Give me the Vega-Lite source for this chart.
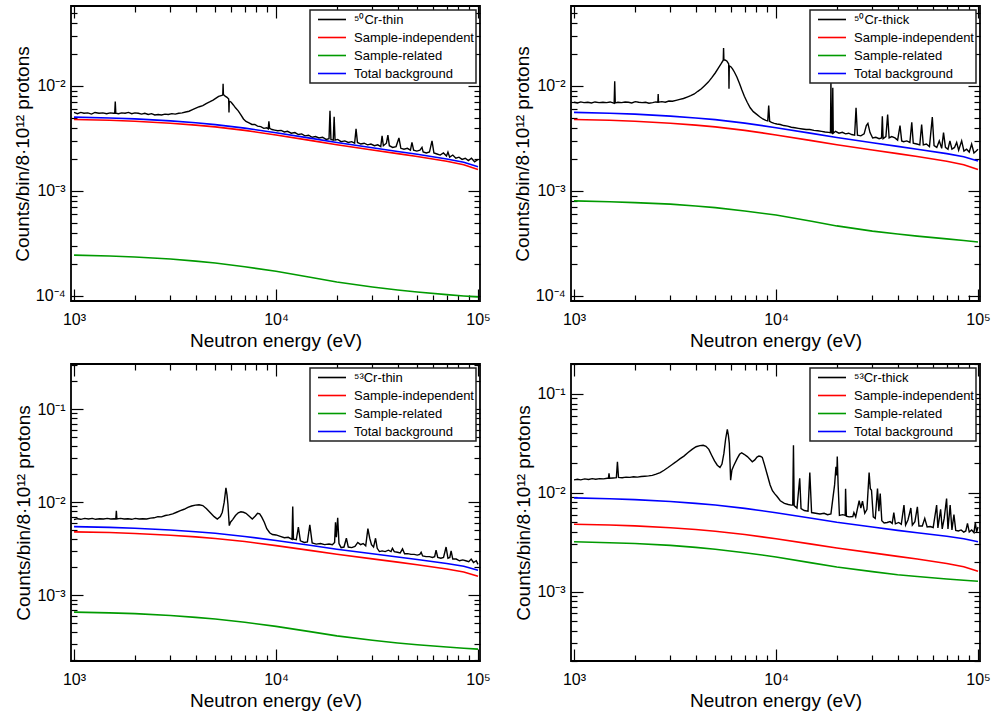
{
  "$schema": "https://vega.github.io/schema/vega-lite/v6.json",
  "background": "white",
  "padding": {"left": 12, "top": 3, "right": 5, "bottom": 5},
  "bounds": "flush",
  "columns": 2,
  "spacing": {"row": 63, "column": 91},
  "config": {
    "font": "Liberation Sans",
    "view": {"stroke": "black", "strokeWidth": 1.8},
    "axis": {
      "grid": false, "domain": false,
      "labelFont": "Liberation Sans", "labelFontSize": 16, "labelColor": "black",
      "titleFont": "Liberation Sans", "titleFontSize": 19, "titleFontWeight": "normal", "titleColor": "black",
      "tickColor": "black", "tickWidth": 1.2, "labelOverlap": false, "labelFlush": false, "labelBound": false
    },
    "axisBottom": {"labelPadding": 22, "titlePadding": -2},
    "axisLeft": {"labelPadding": 18, "titlePadding": 3},
    "legend": {
      "orient": "top-right", "offset": 4, "strokeColor": "#222222", "strokeWidth": 1.5, "fillColor": "white",
      "padding": 2, "clipHeight": 15, "rowPadding": 3, "symbolOffset": 5,
      "symbolType": "stroke", "symbolSize": 784, "symbolStrokeWidth": 1.6,
      "labelFont": "Liberation Sans", "labelFontSize": 13, "labelColor": "black", "labelOffset": 7
    }
  },
  "resolve": {"scale": {"color": "independent"}, "legend": {"color": "independent"}},
  "datasets": {
    "red": [{"E":1000,"v":4.80e-3},{"E":1500,"v":4.72e-3},{"E":2000,"v":4.62e-3},{"E":3000,"v":4.42e-3},{"E":4000,"v":4.24e-3},{"E":5000,"v":4.08e-3},{"E":7000,"v":3.78e-3},{"E":10000,"v":3.42e-3},{"E":15000,"v":3.02e-3},{"E":20000,"v":2.76e-3},{"E":30000,"v":2.46e-3},{"E":40000,"v":2.27e-3},{"E":50000,"v":2.13e-3},{"E":70000,"v":1.92e-3},{"E":85000,"v":1.78e-3},{"E":100000,"v":1.60e-3}],
    "g1": [{"E":1000,"v":2.45e-4},{"E":1500,"v":2.40e-4},{"E":2000,"v":2.35e-4},{"E":3000,"v":2.25e-4},{"E":4000,"v":2.15e-4},{"E":5000,"v":2.06e-4},{"E":7000,"v":1.90e-4},{"E":10000,"v":1.72e-4},{"E":15000,"v":1.50e-4},{"E":20000,"v":1.36e-4},{"E":30000,"v":1.22e-4},{"E":40000,"v":1.14e-4},{"E":50000,"v":1.09e-4},{"E":70000,"v":1.03e-4},{"E":85000,"v":1.00e-4},{"E":100000,"v":0.98e-4}],
    "b1": [{"E":1000,"v":5.05e-3},{"E":1500,"v":4.96e-3},{"E":2000,"v":4.86e-3},{"E":3000,"v":4.65e-3},{"E":4000,"v":4.46e-3},{"E":5000,"v":4.29e-3},{"E":7000,"v":3.97e-3},{"E":10000,"v":3.59e-3},{"E":15000,"v":3.17e-3},{"E":20000,"v":2.90e-3},{"E":30000,"v":2.58e-3},{"E":40000,"v":2.38e-3},{"E":50000,"v":2.24e-3},{"E":70000,"v":2.02e-3},{"E":85000,"v":1.88e-3},{"E":100000,"v":1.70e-3}],
    "g2": [{"E":1000,"v":8.05e-4},{"E":1500,"v":7.9e-4},{"E":2000,"v":7.75e-4},{"E":3000,"v":7.5e-4},{"E":4000,"v":7.2e-4},{"E":5000,"v":6.95e-4},{"E":7000,"v":6.45e-4},{"E":10000,"v":5.9e-4},{"E":15000,"v":5.15e-4},{"E":20000,"v":4.65e-4},{"E":30000,"v":4.15e-4},{"E":40000,"v":3.9e-4},{"E":50000,"v":3.72e-4},{"E":70000,"v":3.5e-4},{"E":85000,"v":3.38e-4},{"E":100000,"v":3.27e-4}],
    "b2": [{"E":1000,"v":5.61e-3},{"E":1500,"v":5.51e-3},{"E":2000,"v":5.40e-3},{"E":3000,"v":5.17e-3},{"E":4000,"v":4.96e-3},{"E":5000,"v":4.78e-3},{"E":7000,"v":4.43e-3},{"E":10000,"v":4.01e-3},{"E":15000,"v":3.54e-3},{"E":20000,"v":3.23e-3},{"E":30000,"v":2.88e-3},{"E":40000,"v":2.66e-3},{"E":50000,"v":2.50e-3},{"E":70000,"v":2.27e-3},{"E":85000,"v":2.12e-3},{"E":100000,"v":1.93e-3}],
    "g3": [{"E":1000,"v":6.6e-4},{"E":1500,"v":6.48e-4},{"E":2000,"v":6.35e-4},{"E":3000,"v":6.08e-4},{"E":4000,"v":5.8e-4},{"E":5000,"v":5.56e-4},{"E":7000,"v":5.13e-4},{"E":10000,"v":4.64e-4},{"E":15000,"v":4.05e-4},{"E":20000,"v":3.67e-4},{"E":30000,"v":3.29e-4},{"E":40000,"v":3.08e-4},{"E":50000,"v":2.94e-4},{"E":70000,"v":2.78e-4},{"E":85000,"v":2.7e-4},{"E":100000,"v":2.64e-4}],
    "b3": [{"E":1000,"v":5.46e-3},{"E":1500,"v":5.37e-3},{"E":2000,"v":5.26e-3},{"E":3000,"v":5.03e-3},{"E":4000,"v":4.82e-3},{"E":5000,"v":4.64e-3},{"E":7000,"v":4.29e-3},{"E":10000,"v":3.88e-3},{"E":15000,"v":3.43e-3},{"E":20000,"v":3.13e-3},{"E":30000,"v":2.79e-3},{"E":40000,"v":2.58e-3},{"E":50000,"v":2.42e-3},{"E":70000,"v":2.20e-3},{"E":85000,"v":2.05e-3},{"E":100000,"v":1.86e-3}],
    "g4": [{"E":1000,"v":3.19e-3},{"E":1500,"v":3.12e-3},{"E":2000,"v":3.06e-3},{"E":3000,"v":2.93e-3},{"E":4000,"v":2.80e-3},{"E":5000,"v":2.68e-3},{"E":7000,"v":2.47e-3},{"E":10000,"v":2.24e-3},{"E":15000,"v":1.95e-3},{"E":20000,"v":1.77e-3},{"E":30000,"v":1.59e-3},{"E":40000,"v":1.48e-3},{"E":50000,"v":1.42e-3},{"E":70000,"v":1.34e-3},{"E":85000,"v":1.30e-3},{"E":100000,"v":1.27e-3}],
    "b4": [{"E":1000,"v":8.87e-3},{"E":1500,"v":8.70e-3},{"E":2000,"v":8.52e-3},{"E":3000,"v":8.16e-3},{"E":4000,"v":7.81e-3},{"E":5000,"v":7.50e-3},{"E":7000,"v":6.94e-3},{"E":10000,"v":6.28e-3},{"E":15000,"v":5.52e-3},{"E":20000,"v":5.03e-3},{"E":30000,"v":4.50e-3},{"E":40000,"v":4.16e-3},{"E":50000,"v":3.94e-3},{"E":70000,"v":3.62e-3},{"E":85000,"v":3.42e-3},{"E":100000,"v":3.19e-3}],
    "s1": [{"E":1000,"v":5.6e-3},{"E":1040,"v":5.45e-3},{"E":1080,"v":5.6e-3},{"E":1120,"v":5.5e-3},{"E":1170,"v":5.55e-3},{"E":1220,"v":5.4e-3},{"E":1270,"v":5.6e-3},{"E":1330,"v":5.5e-3},{"E":1390,"v":5.55e-3},{"E":1450,"v":5.45e-3},{"E":1510,"v":5.55e-3},{"E":1570,"v":5.5e-3},{"E":1590,"v":5.5e-3},{"E":1600,"v":7.1e-3},{"E":1610,"v":5.5e-3},{"E":1660,"v":5.45e-3},{"E":1720,"v":5.55e-3},{"E":1790,"v":5.5e-3},{"E":1860,"v":5.6e-3},{"E":1930,"v":5.45e-3},{"E":2000,"v":5.55e-3},{"E":2080,"v":5.5e-3},{"E":2160,"v":5.4e-3},{"E":2240,"v":5.5e-3},{"E":2330,"v":5.35e-3},{"E":2420,"v":5.45e-3},{"E":2510,"v":5.3e-3},{"E":2610,"v":5.35e-3},{"E":2710,"v":5.3e-3},{"E":2820,"v":5.4e-3},{"E":2930,"v":5.35e-3},{"E":3050,"v":5.45e-3},{"E":3170,"v":5.4e-3},{"E":3300,"v":5.5e-3},{"E":3430,"v":5.55e-3},{"E":3570,"v":5.65e-3},{"E":3710,"v":5.75e-3},{"E":3860,"v":5.95e-3},{"E":4010,"v":6.15e-3},{"E":4170,"v":6.35e-3},{"E":4340,"v":6.5e-3},{"E":4510,"v":6.8e-3},{"E":4690,"v":7.05e-3},{"E":4880,"v":7.35e-3},{"E":5070,"v":7.7e-3},{"E":5200,"v":7.95e-3},{"E":5350,"v":8.1e-3},{"E":5450,"v":8.2e-3},{"E":5470,"v":10.5e-3},{"E":5490,"v":8.3e-3},{"E":5600,"v":8.0e-3},{"E":5720,"v":7.8e-3},{"E":5830,"v":7.5e-3},{"E":5850,"v":5.6e-3},{"E":5870,"v":7.2e-3},{"E":6000,"v":7.0e-3},{"E":6150,"v":6.6e-3},{"E":6300,"v":6.2e-3},{"E":6500,"v":5.8e-3},{"E":6700,"v":5.3e-3},{"E":6900,"v":4.85e-3},{"E":7100,"v":4.6e-3},{"E":7350,"v":4.45e-3},{"E":7600,"v":4.3e-3},{"E":7850,"v":4.3e-3},{"E":8100,"v":4.15e-3},{"E":8400,"v":4.1e-3},{"E":8700,"v":3.95e-3},{"E":9000,"v":4.0e-3},{"E":9150,"v":3.9e-3},{"E":9220,"v":4.6e-3},{"E":9300,"v":3.95e-3},{"E":9550,"v":3.85e-3},{"E":9850,"v":3.8e-3},{"E":10200,"v":3.75e-3},{"E":10600,"v":3.78e-3},{"E":11000,"v":3.65e-3},{"E":11400,"v":3.7e-3},{"E":11900,"v":3.55e-3},{"E":12400,"v":3.6e-3},{"E":12900,"v":3.45e-3},{"E":13400,"v":3.5e-3},{"E":13900,"v":3.35e-3},{"E":14500,"v":3.4e-3},{"E":15100,"v":3.25e-3},{"E":15700,"v":3.3e-3},{"E":16300,"v":3.2e-3},{"E":17000,"v":3.25e-3},{"E":17700,"v":3.1e-3},{"E":18300,"v":3.15e-3},{"E":18500,"v":5.8e-3},{"E":18700,"v":3.1e-3},{"E":19200,"v":3.05e-3},{"E":19400,"v":5.1e-3},{"E":19600,"v":3.05e-3},{"E":20200,"v":3.1e-3},{"E":21000,"v":2.95e-3},{"E":21900,"v":3.0e-3},{"E":22800,"v":2.9e-3},{"E":23700,"v":2.95e-3},{"E":24500,"v":2.85e-3},{"E":24900,"v":3.9e-3},{"E":25300,"v":2.9e-3},{"E":26300,"v":2.8e-3},{"E":27300,"v":2.85e-3},{"E":28400,"v":2.75e-3},{"E":29500,"v":2.8e-3},{"E":30700,"v":2.7e-3},{"E":31900,"v":2.75e-3},{"E":33000,"v":2.65e-3},{"E":33500,"v":3.35e-3},{"E":34000,"v":2.7e-3},{"E":35200,"v":2.85e-3},{"E":35800,"v":3.4e-3},{"E":36400,"v":2.7e-3},{"E":37800,"v":2.6e-3},{"E":39300,"v":2.65e-3},{"E":40600,"v":3.2e-3},{"E":41500,"v":2.55e-3},{"E":43000,"v":2.5e-3},{"E":44700,"v":2.55e-3},{"E":46300,"v":2.45e-3},{"E":47100,"v":2.9e-3},{"E":48000,"v":2.45e-3},{"E":49800,"v":2.4e-3},{"E":51600,"v":2.45e-3},{"E":52800,"v":2.6e-3},{"E":53500,"v":2.35e-3},{"E":55500,"v":2.3e-3},{"E":57500,"v":2.35e-3},{"E":59200,"v":3.0e-3},{"E":60500,"v":2.3e-3},{"E":62700,"v":2.25e-3},{"E":65000,"v":2.2e-3},{"E":67400,"v":2.3e-3},{"E":69800,"v":2.15e-3},{"E":71000,"v":2.35e-3},{"E":72400,"v":2.1e-3},{"E":75000,"v":2.2e-3},{"E":77700,"v":2.05e-3},{"E":80500,"v":2.1e-3},{"E":83400,"v":2.0e-3},{"E":86500,"v":2.05e-3},{"E":89600,"v":1.95e-3},{"E":92800,"v":2.05e-3},{"E":96200,"v":1.9e-3},{"E":100000,"v":2.0e-3}],
    "s2": [{"E":1000,"v":7.0e-3},{"E":1040,"v":6.9e-3},{"E":1080,"v":7.05e-3},{"E":1120,"v":6.95e-3},{"E":1170,"v":7.0e-3},{"E":1220,"v":6.9e-3},{"E":1270,"v":7.05e-3},{"E":1330,"v":6.95e-3},{"E":1390,"v":7.0e-3},{"E":1450,"v":6.95e-3},{"E":1510,"v":7.05e-3},{"E":1560,"v":6.9e-3},{"E":1580,"v":6.85e-3},{"E":1590,"v":11.1e-3},{"E":1600,"v":6.9e-3},{"E":1650,"v":7.0e-3},{"E":1720,"v":6.95e-3},{"E":1790,"v":7.05e-3},{"E":1860,"v":7.0e-3},{"E":1930,"v":6.9e-3},{"E":2010,"v":7.1e-3},{"E":2090,"v":7.0e-3},{"E":2170,"v":6.95e-3},{"E":2260,"v":7.0e-3},{"E":2350,"v":6.85e-3},{"E":2450,"v":6.95e-3},{"E":2540,"v":7.05e-3},{"E":2600,"v":7.0e-3},{"E":2610,"v":8.4e-3},{"E":2620,"v":7.0e-3},{"E":2720,"v":7.1e-3},{"E":2830,"v":7.0e-3},{"E":2950,"v":7.2e-3},{"E":3070,"v":7.15e-3},{"E":3200,"v":7.3e-3},{"E":3340,"v":7.45e-3},{"E":3480,"v":7.6e-3},{"E":3630,"v":7.85e-3},{"E":3780,"v":8.1e-3},{"E":3940,"v":8.4e-3},{"E":4100,"v":8.9e-3},{"E":4270,"v":9.4e-3},{"E":4440,"v":10.1e-3},{"E":4620,"v":10.9e-3},{"E":4810,"v":12.0e-3},{"E":5000,"v":13.3e-3},{"E":5180,"v":14.8e-3},{"E":5350,"v":16.3e-3},{"E":5480,"v":17.6e-3},{"E":5500,"v":23.0e-3},{"E":5520,"v":17.8e-3},{"E":5620,"v":17.6e-3},{"E":5720,"v":17.2e-3},{"E":5830,"v":16.2e-3},{"E":5850,"v":9.4e-3},{"E":5870,"v":15.6e-3},{"E":5990,"v":15.2e-3},{"E":6100,"v":14.5e-3},{"E":6220,"v":13.6e-3},{"E":6400,"v":12.2e-3},{"E":6580,"v":10.7e-3},{"E":6770,"v":9.2e-3},{"E":6970,"v":8.0e-3},{"E":7200,"v":7.0e-3},{"E":7450,"v":6.2e-3},{"E":7720,"v":5.7e-3},{"E":8000,"v":5.4e-3},{"E":8300,"v":5.1e-3},{"E":8600,"v":4.85e-3},{"E":8900,"v":4.7e-3},{"E":9100,"v":4.65e-3},{"E":9200,"v":6.5e-3},{"E":9300,"v":4.6e-3},{"E":9500,"v":4.5e-3},{"E":9800,"v":4.4e-3},{"E":10100,"v":4.35e-3},{"E":10500,"v":4.3e-3},{"E":10900,"v":4.2e-3},{"E":11400,"v":4.15e-3},{"E":11900,"v":4.05e-3},{"E":12400,"v":4.0e-3},{"E":12900,"v":3.95e-3},{"E":13500,"v":3.9e-3},{"E":14100,"v":3.85e-3},{"E":14700,"v":3.85e-3},{"E":15400,"v":3.78e-3},{"E":16100,"v":3.75e-3},{"E":16800,"v":3.7e-3},{"E":17500,"v":3.65e-3},{"E":18200,"v":3.62e-3},{"E":18600,"v":3.6e-3},{"E":18700,"v":11.2e-3},{"E":18800,"v":3.6e-3},{"E":19000,"v":3.55e-3},{"E":19100,"v":9.6e-3},{"E":19200,"v":3.55e-3},{"E":19700,"v":3.7e-3},{"E":20500,"v":3.55e-3},{"E":21300,"v":3.62e-3},{"E":22100,"v":3.5e-3},{"E":22900,"v":3.55e-3},{"E":23700,"v":3.45e-3},{"E":24500,"v":3.4e-3},{"E":24900,"v":6.2e-3},{"E":25300,"v":3.4e-3},{"E":26300,"v":3.35e-3},{"E":27300,"v":3.5e-3},{"E":28000,"v":4.2e-3},{"E":28500,"v":4.4e-3},{"E":29200,"v":3.6e-3},{"E":30100,"v":3.2e-3},{"E":31200,"v":3.25e-3},{"E":32400,"v":3.15e-3},{"E":33300,"v":3.2e-3},{"E":33600,"v":5.15e-3},{"E":33900,"v":3.15e-3},{"E":35000,"v":3.3e-3},{"E":35700,"v":5.35e-3},{"E":36300,"v":3.2e-3},{"E":37400,"v":3.3e-3},{"E":38800,"v":3.2e-3},{"E":40000,"v":3.05e-3},{"E":41100,"v":4.2e-3},{"E":41900,"v":3.0e-3},{"E":42800,"v":2.95e-3},{"E":44400,"v":3.0e-3},{"E":46000,"v":2.9e-3},{"E":47000,"v":4.5e-3},{"E":47800,"v":2.85e-3},{"E":49800,"v":2.8e-3},{"E":51500,"v":2.75e-3},{"E":52600,"v":4.3e-3},{"E":53600,"v":2.75e-3},{"E":55500,"v":2.8e-3},{"E":57500,"v":2.65e-3},{"E":59400,"v":5.05e-3},{"E":60600,"v":2.7e-3},{"E":62500,"v":2.6e-3},{"E":64300,"v":3.0e-3},{"E":66100,"v":2.55e-3},{"E":67500,"v":3.6e-3},{"E":69000,"v":2.6e-3},{"E":71000,"v":2.5e-3},{"E":72600,"v":3.0e-3},{"E":74300,"v":2.5e-3},{"E":76500,"v":2.6e-3},{"E":78400,"v":2.9e-3},{"E":80200,"v":2.45e-3},{"E":83000,"v":3.0e-3},{"E":85200,"v":2.4e-3},{"E":87800,"v":2.5e-3},{"E":90500,"v":2.35e-3},{"E":93000,"v":2.8e-3},{"E":95500,"v":2.3e-3},{"E":98000,"v":2.4e-3},{"E":100000,"v":2.5e-3}],
    "s3": [{"E":1000,"v":6.5e-3},{"E":1040,"v":6.65e-3},{"E":1080,"v":6.55e-3},{"E":1130,"v":6.7e-3},{"E":1180,"v":6.6e-3},{"E":1230,"v":6.7e-3},{"E":1280,"v":6.55e-3},{"E":1340,"v":6.65e-3},{"E":1400,"v":6.6e-3},{"E":1460,"v":6.7e-3},{"E":1520,"v":6.6e-3},{"E":1580,"v":6.65e-3},{"E":1610,"v":6.6e-3},{"E":1620,"v":8.1e-3},{"E":1630,"v":6.6e-3},{"E":1700,"v":6.7e-3},{"E":1770,"v":6.6e-3},{"E":1850,"v":6.65e-3},{"E":1930,"v":6.55e-3},{"E":2010,"v":6.7e-3},{"E":2100,"v":6.6e-3},{"E":2190,"v":6.65e-3},{"E":2290,"v":6.6e-3},{"E":2390,"v":6.75e-3},{"E":2490,"v":6.8e-3},{"E":2600,"v":7.0e-3},{"E":2710,"v":6.95e-3},{"E":2830,"v":7.2e-3},{"E":2950,"v":7.3e-3},{"E":3080,"v":7.5e-3},{"E":3220,"v":7.8e-3},{"E":3360,"v":8.1e-3},{"E":3510,"v":8.4e-3},{"E":3660,"v":8.8e-3},{"E":3820,"v":9.1e-3},{"E":3990,"v":9.3e-3},{"E":4160,"v":9.4e-3},{"E":4340,"v":9.2e-3},{"E":4530,"v":8.5e-3},{"E":4730,"v":7.7e-3},{"E":4940,"v":7.0e-3},{"E":5120,"v":6.6e-3},{"E":5300,"v":7.0e-3},{"E":5420,"v":7.8e-3},{"E":5540,"v":10.0e-3},{"E":5650,"v":14.3e-3},{"E":5720,"v":12.0e-3},{"E":5780,"v":9.5e-3},{"E":5830,"v":7.0e-3},{"E":5870,"v":5.6e-3},{"E":5950,"v":6.1e-3},{"E":6100,"v":6.5e-3},{"E":6300,"v":7.2e-3},{"E":6500,"v":7.7e-3},{"E":6700,"v":7.9e-3},{"E":6900,"v":7.8e-3},{"E":7100,"v":7.6e-3},{"E":7350,"v":7.1e-3},{"E":7630,"v":6.6e-3},{"E":7900,"v":7.1e-3},{"E":8100,"v":7.6e-3},{"E":8300,"v":7.5e-3},{"E":8500,"v":6.9e-3},{"E":8750,"v":6.1e-3},{"E":9000,"v":5.2e-3},{"E":9300,"v":4.7e-3},{"E":9600,"v":4.5e-3},{"E":10000,"v":4.45e-3},{"E":10500,"v":4.3e-3},{"E":11000,"v":4.15e-3},{"E":11500,"v":4.2e-3},{"E":12000,"v":4.0e-3},{"E":12100,"v":9.0e-3},{"E":12200,"v":4.0e-3},{"E":12600,"v":3.95e-3},{"E":12900,"v":5.4e-3},{"E":13200,"v":3.85e-3},{"E":13800,"v":3.7e-3},{"E":14300,"v":3.75e-3},{"E":14700,"v":5.7e-3},{"E":15100,"v":3.65e-3},{"E":15800,"v":3.55e-3},{"E":16600,"v":3.6e-3},{"E":17400,"v":3.5e-3},{"E":18300,"v":3.55e-3},{"E":19000,"v":3.5e-3},{"E":19500,"v":3.7e-3},{"E":19700,"v":6.1e-3},{"E":19900,"v":4.2e-3},{"E":20200,"v":6.8e-3},{"E":20500,"v":3.6e-3},{"E":21000,"v":3.25e-3},{"E":21700,"v":3.3e-3},{"E":22300,"v":4.1e-3},{"E":22800,"v":3.3e-3},{"E":23700,"v":3.25e-3},{"E":24600,"v":3.35e-3},{"E":25400,"v":3.7e-3},{"E":26200,"v":3.5e-3},{"E":27000,"v":3.6e-3},{"E":27800,"v":3.4e-3},{"E":28500,"v":5.2e-3},{"E":29100,"v":4.1e-3},{"E":29700,"v":3.5e-3},{"E":30400,"v":3.3e-3},{"E":31100,"v":4.1e-3},{"E":31700,"v":3.2e-3},{"E":32500,"v":2.95e-3},{"E":33500,"v":3.0e-3},{"E":34700,"v":2.95e-3},{"E":36000,"v":3.05e-3},{"E":37100,"v":2.95e-3},{"E":37700,"v":3.2e-3},{"E":38500,"v":2.95e-3},{"E":39900,"v":2.9e-3},{"E":41200,"v":2.85e-3},{"E":42300,"v":3.15e-3},{"E":43300,"v":2.8e-3},{"E":44900,"v":2.8e-3},{"E":46600,"v":2.75e-3},{"E":48300,"v":2.75e-3},{"E":50000,"v":2.7e-3},{"E":51500,"v":2.75e-3},{"E":52300,"v":2.9e-3},{"E":53200,"v":2.65e-3},{"E":55300,"v":2.6e-3},{"E":57500,"v":2.6e-3},{"E":59500,"v":2.55e-3},{"E":61000,"v":2.6e-3},{"E":62000,"v":3.05e-3},{"E":63200,"v":2.55e-3},{"E":65500,"v":2.5e-3},{"E":67500,"v":2.55e-3},{"E":69500,"v":3.3e-3},{"E":71000,"v":2.5e-3},{"E":72500,"v":2.55e-3},{"E":73600,"v":3.0e-3},{"E":75000,"v":2.45e-3},{"E":78000,"v":2.45e-3},{"E":81000,"v":2.35e-3},{"E":84000,"v":2.4e-3},{"E":87000,"v":2.35e-3},{"E":90000,"v":2.3e-3},{"E":92500,"v":2.45e-3},{"E":95000,"v":2.25e-3},{"E":98000,"v":2.35e-3},{"E":100000,"v":2.15e-3}],
    "s4": [{"E":1000,"v":13.5e-3},{"E":1040,"v":13.7e-3},{"E":1080,"v":13.5e-3},{"E":1130,"v":13.8e-3},{"E":1180,"v":13.6e-3},{"E":1230,"v":13.9e-3},{"E":1280,"v":13.7e-3},{"E":1340,"v":13.9e-3},{"E":1400,"v":13.8e-3},{"E":1460,"v":14.0e-3},{"E":1480,"v":14.0e-3},{"E":1490,"v":15.7e-3},{"E":1500,"v":14.0e-3},{"E":1560,"v":14.1e-3},{"E":1620,"v":14.2e-3},{"E":1640,"v":20.6e-3},{"E":1660,"v":14.3e-3},{"E":1730,"v":14.2e-3},{"E":1810,"v":14.4e-3},{"E":1890,"v":14.3e-3},{"E":1970,"v":14.5e-3},{"E":2060,"v":14.4e-3},{"E":2150,"v":14.6e-3},{"E":2240,"v":14.7e-3},{"E":2340,"v":14.8e-3},{"E":2440,"v":15.0e-3},{"E":2550,"v":15.4e-3},{"E":2670,"v":16.0e-3},{"E":2790,"v":16.9e-3},{"E":2920,"v":18.0e-3},{"E":3050,"v":19.2e-3},{"E":3190,"v":20.5e-3},{"E":3340,"v":22.0e-3},{"E":3500,"v":23.5e-3},{"E":3670,"v":25.5e-3},{"E":3840,"v":27.5e-3},{"E":4020,"v":29.2e-3},{"E":4200,"v":30.0e-3},{"E":4360,"v":30.2e-3},{"E":4500,"v":29.5e-3},{"E":4650,"v":27.5e-3},{"E":4800,"v":24.0e-3},{"E":4960,"v":21.0e-3},{"E":5120,"v":19.0e-3},{"E":5280,"v":18.0e-3},{"E":5400,"v":19.5e-3},{"E":5520,"v":25.0e-3},{"E":5630,"v":35.0e-3},{"E":5740,"v":43.8e-3},{"E":5810,"v":38.0e-3},{"E":5870,"v":31.6e-3},{"E":5920,"v":20.0e-3},{"E":5960,"v":13.4e-3},{"E":6050,"v":17.0e-3},{"E":6190,"v":19.0e-3},{"E":6430,"v":22.3e-3},{"E":6600,"v":24.5e-3},{"E":6760,"v":25.4e-3},{"E":6950,"v":24.5e-3},{"E":7210,"v":23.2e-3},{"E":7430,"v":21.8e-3},{"E":7630,"v":20.6e-3},{"E":7850,"v":21.5e-3},{"E":8050,"v":23.0e-3},{"E":8230,"v":23.5e-3},{"E":8400,"v":23.3e-3},{"E":8550,"v":22.8e-3},{"E":8750,"v":19.5e-3},{"E":9060,"v":15.1e-3},{"E":9350,"v":12.0e-3},{"E":9600,"v":10.5e-3},{"E":9840,"v":9.8e-3},{"E":10100,"v":9.2e-3},{"E":10500,"v":8.3e-3},{"E":11000,"v":7.8e-3},{"E":11500,"v":7.6e-3},{"E":11900,"v":7.5e-3},{"E":12100,"v":7.5e-3},{"E":12200,"v":30.3e-3},{"E":12300,"v":7.4e-3},{"E":12700,"v":7.0e-3},{"E":13100,"v":14.0e-3},{"E":13300,"v":6.9e-3},{"E":13800,"v":6.6e-3},{"E":14400,"v":6.5e-3},{"E":14700,"v":16.0e-3},{"E":15000,"v":6.3e-3},{"E":15700,"v":6.2e-3},{"E":16500,"v":6.1e-3},{"E":17300,"v":6.2e-3},{"E":18000,"v":6.0e-3},{"E":18700,"v":6.1e-3},{"E":19200,"v":9.4e-3},{"E":19500,"v":12.0e-3},{"E":19800,"v":18.3e-3},{"E":20000,"v":15.0e-3},{"E":20100,"v":23.2e-3},{"E":20300,"v":12.0e-3},{"E":20600,"v":5.9e-3},{"E":21400,"v":6.0e-3},{"E":22000,"v":5.9e-3},{"E":22100,"v":11.0e-3},{"E":22300,"v":5.8e-3},{"E":23000,"v":5.7e-3},{"E":24000,"v":5.75e-3},{"E":24300,"v":6.3e-3},{"E":24800,"v":5.7e-3},{"E":25800,"v":8.3e-3},{"E":26300,"v":7.0e-3},{"E":26800,"v":8.2e-3},{"E":27500,"v":6.2e-3},{"E":28200,"v":6.8e-3},{"E":28900,"v":16.0e-3},{"E":29300,"v":11.0e-3},{"E":29700,"v":10.6e-3},{"E":30300,"v":5.7e-3},{"E":31000,"v":5.5e-3},{"E":31800,"v":11.0e-3},{"E":32300,"v":6.5e-3},{"E":32800,"v":9.8e-3},{"E":33400,"v":5.2e-3},{"E":34300,"v":4.95e-3},{"E":35500,"v":5.0e-3},{"E":36700,"v":5.1e-3},{"E":37600,"v":4.9e-3},{"E":38300,"v":6.3e-3},{"E":39000,"v":4.85e-3},{"E":40500,"v":5.0e-3},{"E":41700,"v":4.8e-3},{"E":43000,"v":7.5e-3},{"E":43800,"v":4.7e-3},{"E":45000,"v":5.3e-3},{"E":46500,"v":7.0e-3},{"E":47300,"v":4.7e-3},{"E":48700,"v":5.1e-3},{"E":50100,"v":7.2e-3},{"E":51000,"v":4.6e-3},{"E":53000,"v":4.6e-3},{"E":54500,"v":5.5e-3},{"E":56000,"v":4.5e-3},{"E":58000,"v":4.55e-3},{"E":60000,"v":4.45e-3},{"E":62400,"v":7.5e-3},{"E":63300,"v":4.4e-3},{"E":65300,"v":6.8e-3},{"E":66500,"v":4.3e-3},{"E":68000,"v":5.5e-3},{"E":69900,"v":8.75e-3},{"E":71000,"v":4.3e-3},{"E":72800,"v":7.5e-3},{"E":74300,"v":4.2e-3},{"E":76000,"v":6.0e-3},{"E":77600,"v":4.15e-3},{"E":80000,"v":4.1e-3},{"E":82500,"v":4.2e-3},{"E":85000,"v":4.0e-3},{"E":87000,"v":4.1e-3},{"E":88700,"v":4.9e-3},{"E":90500,"v":4.0e-3},{"E":93000,"v":4.2e-3},{"E":95500,"v":3.95e-3},{"E":97000,"v":5.0e-3},{"E":98500,"v":4.0e-3},{"E":100000,"v":4.5e-3}]
  },
  "concat": [
    {
      "width": 409, "height": 295,
      "resolve": {"axis": {"x": "independent", "y": "independent"}},
      "layer": [
        {"data": {"name": "s1"}, "mark": {"type": "line", "strokeWidth": 1.4, "clip": true},
         "encoding": {
           "x": {"field": "E", "type": "quantitative", "scale": {"type": "log", "domain": [966, 102300], "nice": false},
                 "axis": {"orient": "bottom", "values": [1000,2000,3000,4000,5000,6000,7000,8000,9000,10000,20000,30000,40000,50000,60000,70000,80000,90000,100000],
                          "labelExpr": "datum.value == 1000 ? '10³' : datum.value == 10000 ? '10⁴' : datum.value == 100000 ? '10⁵' : ''",
                          "tickSize": {"condition": {"test": "abs(log(datum.value)/LN10 - round(log(datum.value)/LN10)) < 0.001", "value": -12}, "value": -6},
                          "title": "Neutron energy (eV)"}},
           "y": {"field": "v", "type": "quantitative", "scale": {"type": "log", "domain": [8.96e-5, 0.0578], "nice": false},
                 "axis": {"orient": "left", "values": [0.0001,0.0002,0.0003,0.0004,0.0005,0.0006,0.0007,0.0008,0.0009,0.001,0.002,0.003,0.004,0.005,0.006,0.007,0.008,0.009,0.01,0.02,0.03,0.04,0.05],
                          "labelExpr": "datum.value == 0.0001 ? '10⁻⁴' : datum.value == 0.001 ? '10⁻³' : datum.value == 0.01 ? '10⁻²' : datum.value == 0.1 ? '10⁻¹' : ''",
                          "tickSize": {"condition": {"test": "abs(log(datum.value)/LN10 - round(log(datum.value)/LN10)) < 0.001", "value": -12}, "value": -6},
                          "title": "Counts/bin/8·10¹² protons"}},
           "color": {"datum": "⁵⁰Cr-thin", "type": "nominal", "scale": {"domain": ["⁵⁰Cr-thin", "Sample-independent", "Sample-related", "Total background"], "range": ["#000000", "#ff0000", "#009a00", "#0000ff"]}, "legend": {"title": null}}
         }},
        {"data": {"name": "red"}, "mark": {"type": "line", "strokeWidth": 1.6},
         "encoding": {
           "x": {"field": "E", "type": "quantitative", "axis": {"orient": "top", "labels": false, "title": null, "values": [1000,2000,3000,4000,5000,6000,7000,8000,9000,10000,20000,30000,40000,50000,60000,70000,80000,90000,100000],
                  "tickSize": {"condition": {"test": "abs(log(datum.value)/LN10 - round(log(datum.value)/LN10)) < 0.001", "value": -12}, "value": -6}}},
           "y": {"field": "v", "type": "quantitative", "axis": {"orient": "right", "labels": false, "title": null, "values": [0.0001,0.0002,0.0003,0.0004,0.0005,0.0006,0.0007,0.0008,0.0009,0.001,0.002,0.003,0.004,0.005,0.006,0.007,0.008,0.009,0.01,0.02,0.03,0.04,0.05],
                  "tickSize": {"condition": {"test": "abs(log(datum.value)/LN10 - round(log(datum.value)/LN10)) < 0.001", "value": -12}, "value": -6}}},
           "color": {"datum": "Sample-independent", "type": "nominal"}
         }},
        {"data": {"name": "g1"}, "mark": {"type": "line", "strokeWidth": 1.6},
         "encoding": {"x": {"field": "E", "type": "quantitative", "axis": null}, "y": {"field": "v", "type": "quantitative", "axis": null}, "color": {"datum": "Sample-related", "type": "nominal"}}},
        {"data": {"name": "b1"}, "mark": {"type": "line", "strokeWidth": 1.6},
         "encoding": {"x": {"field": "E", "type": "quantitative", "axis": null}, "y": {"field": "v", "type": "quantitative", "axis": null}, "color": {"datum": "Total background", "type": "nominal"}}}
      ]
    },
    {
      "width": 409, "height": 295,
      "resolve": {"axis": {"x": "independent", "y": "independent"}},
      "layer": [
        {"data": {"name": "s2"}, "mark": {"type": "line", "strokeWidth": 1.4, "clip": true},
         "encoding": {
           "x": {"field": "E", "type": "quantitative", "scale": {"type": "log", "domain": [966, 102300], "nice": false},
                 "axis": {"orient": "bottom", "values": [1000,2000,3000,4000,5000,6000,7000,8000,9000,10000,20000,30000,40000,50000,60000,70000,80000,90000,100000],
                          "labelExpr": "datum.value == 1000 ? '10³' : datum.value == 10000 ? '10⁴' : datum.value == 100000 ? '10⁵' : ''",
                          "tickSize": {"condition": {"test": "abs(log(datum.value)/LN10 - round(log(datum.value)/LN10)) < 0.001", "value": -12}, "value": -6},
                          "title": "Neutron energy (eV)"}},
           "y": {"field": "v", "type": "quantitative", "scale": {"type": "log", "domain": [8.96e-5, 0.0578], "nice": false},
                 "axis": {"orient": "left", "values": [0.0001,0.0002,0.0003,0.0004,0.0005,0.0006,0.0007,0.0008,0.0009,0.001,0.002,0.003,0.004,0.005,0.006,0.007,0.008,0.009,0.01,0.02,0.03,0.04,0.05],
                          "labelExpr": "datum.value == 0.0001 ? '10⁻⁴' : datum.value == 0.001 ? '10⁻³' : datum.value == 0.01 ? '10⁻²' : datum.value == 0.1 ? '10⁻¹' : ''",
                          "tickSize": {"condition": {"test": "abs(log(datum.value)/LN10 - round(log(datum.value)/LN10)) < 0.001", "value": -12}, "value": -6},
                          "title": "Counts/bin/8·10¹² protons"}},
           "color": {"datum": "⁵⁰Cr-thick", "type": "nominal", "scale": {"domain": ["⁵⁰Cr-thick", "Sample-independent", "Sample-related", "Total background"], "range": ["#000000", "#ff0000", "#009a00", "#0000ff"]}, "legend": {"title": null}}
         }},
        {"data": {"name": "red"}, "mark": {"type": "line", "strokeWidth": 1.6},
         "encoding": {
           "x": {"field": "E", "type": "quantitative", "axis": {"orient": "top", "labels": false, "title": null, "values": [1000,2000,3000,4000,5000,6000,7000,8000,9000,10000,20000,30000,40000,50000,60000,70000,80000,90000,100000],
                  "tickSize": {"condition": {"test": "abs(log(datum.value)/LN10 - round(log(datum.value)/LN10)) < 0.001", "value": -12}, "value": -6}}},
           "y": {"field": "v", "type": "quantitative", "axis": {"orient": "right", "labels": false, "title": null, "values": [0.0001,0.0002,0.0003,0.0004,0.0005,0.0006,0.0007,0.0008,0.0009,0.001,0.002,0.003,0.004,0.005,0.006,0.007,0.008,0.009,0.01,0.02,0.03,0.04,0.05],
                  "tickSize": {"condition": {"test": "abs(log(datum.value)/LN10 - round(log(datum.value)/LN10)) < 0.001", "value": -12}, "value": -6}}},
           "color": {"datum": "Sample-independent", "type": "nominal"}
         }},
        {"data": {"name": "g2"}, "mark": {"type": "line", "strokeWidth": 1.6},
         "encoding": {"x": {"field": "E", "type": "quantitative", "axis": null}, "y": {"field": "v", "type": "quantitative", "axis": null}, "color": {"datum": "Sample-related", "type": "nominal"}}},
        {"data": {"name": "b2"}, "mark": {"type": "line", "strokeWidth": 1.6},
         "encoding": {"x": {"field": "E", "type": "quantitative", "axis": null}, "y": {"field": "v", "type": "quantitative", "axis": null}, "color": {"datum": "Total background", "type": "nominal"}}}
      ]
    },
    {
      "width": 409, "height": 297,
      "resolve": {"axis": {"x": "independent", "y": "independent"}},
      "layer": [
        {"data": {"name": "s3"}, "mark": {"type": "line", "strokeWidth": 1.4, "clip": true},
         "encoding": {
           "x": {"field": "E", "type": "quantitative", "scale": {"type": "log", "domain": [966, 102300], "nice": false},
                 "axis": {"orient": "bottom", "values": [1000,2000,3000,4000,5000,6000,7000,8000,9000,10000,20000,30000,40000,50000,60000,70000,80000,90000,100000],
                          "labelExpr": "datum.value == 1000 ? '10³' : datum.value == 10000 ? '10⁴' : datum.value == 100000 ? '10⁵' : ''",
                          "tickSize": {"condition": {"test": "abs(log(datum.value)/LN10 - round(log(datum.value)/LN10)) < 0.001", "value": -12}, "value": -6},
                          "title": "Neutron energy (eV)"}},
           "y": {"field": "v", "type": "quantitative", "scale": {"type": "log", "domain": [1.97e-4, 0.305], "nice": false},
                 "axis": {"orient": "left", "values": [0.0002,0.0003,0.0004,0.0005,0.0006,0.0007,0.0008,0.0009,0.001,0.002,0.003,0.004,0.005,0.006,0.007,0.008,0.009,0.01,0.02,0.03,0.04,0.05,0.06,0.07,0.08,0.09,0.1,0.2,0.3],
                          "labelExpr": "datum.value == 0.0001 ? '10⁻⁴' : datum.value == 0.001 ? '10⁻³' : datum.value == 0.01 ? '10⁻²' : datum.value == 0.1 ? '10⁻¹' : ''",
                          "tickSize": {"condition": {"test": "abs(log(datum.value)/LN10 - round(log(datum.value)/LN10)) < 0.001", "value": -12}, "value": -6},
                          "title": "Counts/bin/8·10¹² protons"}},
           "color": {"datum": "⁵³Cr-thin", "type": "nominal", "scale": {"domain": ["⁵³Cr-thin", "Sample-independent", "Sample-related", "Total background"], "range": ["#000000", "#ff0000", "#009a00", "#0000ff"]}, "legend": {"title": null}}
         }},
        {"data": {"name": "red"}, "mark": {"type": "line", "strokeWidth": 1.6},
         "encoding": {
           "x": {"field": "E", "type": "quantitative", "axis": {"orient": "top", "labels": false, "title": null, "values": [1000,2000,3000,4000,5000,6000,7000,8000,9000,10000,20000,30000,40000,50000,60000,70000,80000,90000,100000],
                  "tickSize": {"condition": {"test": "abs(log(datum.value)/LN10 - round(log(datum.value)/LN10)) < 0.001", "value": -12}, "value": -6}}},
           "y": {"field": "v", "type": "quantitative", "axis": {"orient": "right", "labels": false, "title": null, "values": [0.0002,0.0003,0.0004,0.0005,0.0006,0.0007,0.0008,0.0009,0.001,0.002,0.003,0.004,0.005,0.006,0.007,0.008,0.009,0.01,0.02,0.03,0.04,0.05,0.06,0.07,0.08,0.09,0.1,0.2,0.3],
                  "tickSize": {"condition": {"test": "abs(log(datum.value)/LN10 - round(log(datum.value)/LN10)) < 0.001", "value": -12}, "value": -6}}},
           "color": {"datum": "Sample-independent", "type": "nominal"}
         }},
        {"data": {"name": "g3"}, "mark": {"type": "line", "strokeWidth": 1.6},
         "encoding": {"x": {"field": "E", "type": "quantitative", "axis": null}, "y": {"field": "v", "type": "quantitative", "axis": null}, "color": {"datum": "Sample-related", "type": "nominal"}}},
        {"data": {"name": "b3"}, "mark": {"type": "line", "strokeWidth": 1.6},
         "encoding": {"x": {"field": "E", "type": "quantitative", "axis": null}, "y": {"field": "v", "type": "quantitative", "axis": null}, "color": {"datum": "Total background", "type": "nominal"}}}
      ]
    },
    {
      "width": 409, "height": 297,
      "resolve": {"axis": {"x": "independent", "y": "independent"}},
      "layer": [
        {"data": {"name": "s4"}, "mark": {"type": "line", "strokeWidth": 1.4, "clip": true},
         "encoding": {
           "x": {"field": "E", "type": "quantitative", "scale": {"type": "log", "domain": [966, 102300], "nice": false},
                 "axis": {"orient": "bottom", "values": [1000,2000,3000,4000,5000,6000,7000,8000,9000,10000,20000,30000,40000,50000,60000,70000,80000,90000,100000],
                          "labelExpr": "datum.value == 1000 ? '10³' : datum.value == 10000 ? '10⁴' : datum.value == 100000 ? '10⁵' : ''",
                          "tickSize": {"condition": {"test": "abs(log(datum.value)/LN10 - round(log(datum.value)/LN10)) < 0.001", "value": -12}, "value": -6},
                          "title": "Neutron energy (eV)"}},
           "y": {"field": "v", "type": "quantitative", "scale": {"type": "log", "domain": [1.98e-4, 0.201], "nice": false},
                 "axis": {"orient": "left", "values": [0.0002,0.0003,0.0004,0.0005,0.0006,0.0007,0.0008,0.0009,0.001,0.002,0.003,0.004,0.005,0.006,0.007,0.008,0.009,0.01,0.02,0.03,0.04,0.05,0.06,0.07,0.08,0.09,0.1,0.2],
                          "labelExpr": "datum.value == 0.0001 ? '10⁻⁴' : datum.value == 0.001 ? '10⁻³' : datum.value == 0.01 ? '10⁻²' : datum.value == 0.1 ? '10⁻¹' : ''",
                          "tickSize": {"condition": {"test": "abs(log(datum.value)/LN10 - round(log(datum.value)/LN10)) < 0.001", "value": -12}, "value": -6},
                          "title": "Counts/bin/8·10¹² protons"}},
           "color": {"datum": "⁵³Cr-thick", "type": "nominal", "scale": {"domain": ["⁵³Cr-thick", "Sample-independent", "Sample-related", "Total background"], "range": ["#000000", "#ff0000", "#009a00", "#0000ff"]}, "legend": {"title": null}}
         }},
        {"data": {"name": "red"}, "mark": {"type": "line", "strokeWidth": 1.6},
         "encoding": {
           "x": {"field": "E", "type": "quantitative", "axis": {"orient": "top", "labels": false, "title": null, "values": [1000,2000,3000,4000,5000,6000,7000,8000,9000,10000,20000,30000,40000,50000,60000,70000,80000,90000,100000],
                  "tickSize": {"condition": {"test": "abs(log(datum.value)/LN10 - round(log(datum.value)/LN10)) < 0.001", "value": -12}, "value": -6}}},
           "y": {"field": "v", "type": "quantitative", "axis": {"orient": "right", "labels": false, "title": null, "values": [0.0002,0.0003,0.0004,0.0005,0.0006,0.0007,0.0008,0.0009,0.001,0.002,0.003,0.004,0.005,0.006,0.007,0.008,0.009,0.01,0.02,0.03,0.04,0.05,0.06,0.07,0.08,0.09,0.1,0.2],
                  "tickSize": {"condition": {"test": "abs(log(datum.value)/LN10 - round(log(datum.value)/LN10)) < 0.001", "value": -12}, "value": -6}}},
           "color": {"datum": "Sample-independent", "type": "nominal"}
         }},
        {"data": {"name": "g4"}, "mark": {"type": "line", "strokeWidth": 1.6},
         "encoding": {"x": {"field": "E", "type": "quantitative", "axis": null}, "y": {"field": "v", "type": "quantitative", "axis": null}, "color": {"datum": "Sample-related", "type": "nominal"}}},
        {"data": {"name": "b4"}, "mark": {"type": "line", "strokeWidth": 1.6},
         "encoding": {"x": {"field": "E", "type": "quantitative", "axis": null}, "y": {"field": "v", "type": "quantitative", "axis": null}, "color": {"datum": "Total background", "type": "nominal"}}}
      ]
    }
  ]
}
